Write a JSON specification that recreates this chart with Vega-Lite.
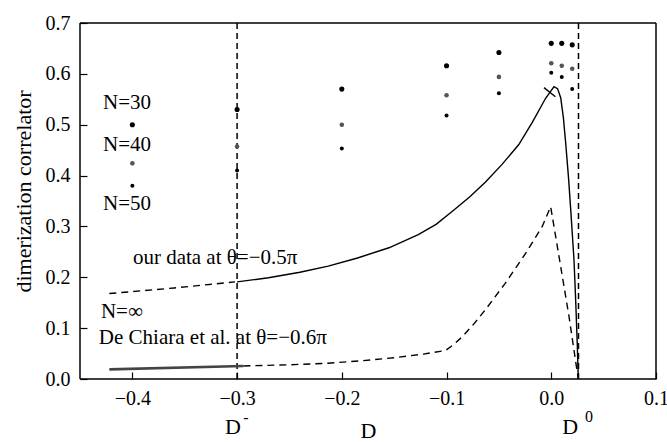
{
  "$schema": "https://vega.github.io/schema/vega-lite/v6.json",
  "width": 576,
  "height": 356,
  "autosize": {"type": "none"},
  "padding": {"left": 80, "top": 23, "right": 11, "bottom": 63},
  "background": "white",
  "config": {
    "view": {"stroke": null},
    "font": "Liberation Serif",
    "axis": {
      "grid": false,
      "domain": false,
      "tickColor": "black",
      "tickWidth": 1.2,
      "labelColor": "black",
      "labelFont": "Liberation Serif",
      "labelFontSize": 20,
      "labelOverlap": false,
      "labelFlush": false,
      "labelBound": false,
      "titleFont": "Liberation Serif",
      "titleFontWeight": "normal",
      "titleFontSize": 22,
      "titleColor": "black"
    }
  },
  "datasets": {
    "vlines": [{"x": -0.3}, {"x": 0.026}],
    "curves": [
      {"series": "ours_solid", "x": -0.3, "y": 0.191},
      {"series": "ours_solid", "x": -0.27, "y": 0.199},
      {"series": "ours_solid", "x": -0.24, "y": 0.21},
      {"series": "ours_solid", "x": -0.213, "y": 0.222},
      {"series": "ours_solid", "x": -0.185, "y": 0.238},
      {"series": "ours_solid", "x": -0.155, "y": 0.258},
      {"series": "ours_solid", "x": -0.127, "y": 0.284},
      {"series": "ours_solid", "x": -0.11, "y": 0.304},
      {"series": "ours_solid", "x": -0.095, "y": 0.329},
      {"series": "ours_solid", "x": -0.078, "y": 0.358},
      {"series": "ours_solid", "x": -0.063, "y": 0.387},
      {"series": "ours_solid", "x": -0.047, "y": 0.422},
      {"series": "ours_solid", "x": -0.031, "y": 0.461},
      {"series": "ours_solid", "x": -0.018, "y": 0.505},
      {"series": "ours_solid", "x": -0.0054, "y": 0.552},
      {"series": "ours_solid", "x": 0.0026, "y": 0.575},
      {"series": "ours_solid", "x": 0.006, "y": 0.571},
      {"series": "ours_solid", "x": 0.009, "y": 0.553},
      {"series": "ours_solid", "x": 0.0115, "y": 0.515},
      {"series": "ours_solid", "x": 0.0138, "y": 0.463},
      {"series": "ours_solid", "x": 0.0165, "y": 0.395},
      {"series": "ours_solid", "x": 0.0186, "y": 0.332},
      {"series": "ours_solid", "x": 0.0217, "y": 0.234},
      {"series": "ours_solid", "x": 0.0233, "y": 0.155},
      {"series": "ours_solid", "x": 0.0248, "y": 0.07},
      {"series": "ours_solid", "x": 0.0258, "y": 0.0},
      {"series": "cross", "x": -0.007, "y": 0.573},
      {"series": "cross", "x": 0.004, "y": 0.555},
      {"series": "dc_solid", "x": -0.422, "y": 0.019},
      {"series": "dc_solid", "x": -0.294, "y": 0.0256},
      {"series": "ours_dashed", "x": -0.422, "y": 0.168},
      {"series": "ours_dashed", "x": -0.36, "y": 0.179},
      {"series": "ours_dashed", "x": -0.302, "y": 0.191},
      {"series": "dc_dashed", "x": -0.294, "y": 0.0256},
      {"series": "dc_dashed", "x": -0.25, "y": 0.028},
      {"series": "dc_dashed", "x": -0.213, "y": 0.031},
      {"series": "dc_dashed", "x": -0.18, "y": 0.036},
      {"series": "dc_dashed", "x": -0.149, "y": 0.042},
      {"series": "dc_dashed", "x": -0.122, "y": 0.049},
      {"series": "dc_dashed", "x": -0.101, "y": 0.056},
      {"series": "dc_dashed", "x": -0.093, "y": 0.068},
      {"series": "dc_dashed", "x": -0.085, "y": 0.083},
      {"series": "dc_dashed", "x": -0.074, "y": 0.108},
      {"series": "dc_dashed", "x": -0.063, "y": 0.136},
      {"series": "dc_dashed", "x": -0.044, "y": 0.188},
      {"series": "dc_dashed", "x": -0.0245, "y": 0.247},
      {"series": "dc_dashed", "x": -0.0086, "y": 0.3},
      {"series": "dc_dashed", "x": -0.0006, "y": 0.339},
      {"series": "dc_dashed", "x": 0.009, "y": 0.221},
      {"series": "dc_dashed", "x": 0.017, "y": 0.122},
      {"series": "dc_dashed", "x": 0.0249, "y": 0.012},
      {"series": "dc_dashed", "x": 0.026, "y": 0.0}
    ],
    "dots": [
      {"x": -0.4, "y": 0.5, "N": "30"}, {"x": -0.4, "y": 0.424, "N": "40"}, {"x": -0.4, "y": 0.38, "N": "50"},
      {"x": -0.3, "y": 0.53, "N": "30"}, {"x": -0.3, "y": 0.457, "N": "40"}, {"x": -0.3, "y": 0.41, "N": "50"},
      {"x": -0.2, "y": 0.57, "N": "30"}, {"x": -0.2, "y": 0.5, "N": "40"}, {"x": -0.2, "y": 0.453, "N": "50"},
      {"x": -0.1, "y": 0.616, "N": "30"}, {"x": -0.1, "y": 0.558, "N": "40"}, {"x": -0.1, "y": 0.518, "N": "50"},
      {"x": -0.05, "y": 0.642, "N": "30"}, {"x": -0.05, "y": 0.594, "N": "40"}, {"x": -0.05, "y": 0.562, "N": "50"},
      {"x": 0.0, "y": 0.66, "N": "30"}, {"x": 0.0, "y": 0.621, "N": "40"}, {"x": 0.0, "y": 0.602, "N": "50"},
      {"x": 0.01, "y": 0.66, "N": "30"}, {"x": 0.01, "y": 0.616, "N": "40"}, {"x": 0.01, "y": 0.594, "N": "50"},
      {"x": 0.02, "y": 0.657, "N": "30"}, {"x": 0.02, "y": 0.61, "N": "40"}, {"x": 0.02, "y": 0.57, "N": "50"}
    ],
    "labels": [
      {"x": -0.428, "y": 0.543, "text": "N=30"},
      {"x": -0.428, "y": 0.46, "text": "N=40"},
      {"x": -0.428, "y": 0.344, "text": "N=50"},
      {"x": -0.3995, "y": 0.238, "text": "our data at θ=−0.5π"},
      {"x": -0.43, "y": 0.132, "text": "N=∞"},
      {"x": -0.432, "y": 0.081, "text": "De Chiara et al. at θ=−0.6π"}
    ],
    "dlabels": [
      {"x": -0.304, "y": -0.094, "text": "D"},
      {"x": 0.018, "y": -0.094, "text": "D"}
    ],
    "sups": [
      {"x": -0.2916, "y": -0.077, "text": "-"},
      {"x": 0.0361, "y": -0.075, "text": "0"}
    ],
    "one": [{}]
  },
  "layer": [
    {
      "data": {"name": "vlines"},
      "mark": {"type": "rule", "color": "black", "strokeWidth": 1.5, "strokeDash": [6, 4]},
      "encoding": {
        "x": {
          "field": "x", "type": "quantitative",
          "scale": {"domain": [-0.45, 0.1], "nice": false, "zero": false},
          "axis": {
            "orient": "bottom",
            "values": [-0.4, -0.3, -0.2, -0.1, 0, 0.1],
            "format": ".1f",
            "labelOverlap": false,
            "offset": -7,
            "ticks": true,
            "tickSize": 7,
            "labelPadding": 9,
            "title": "D",
            "titlePadding": 12
          }
        }
      }
    },
    {
      "data": {"name": "curves"},
      "transform": [{"filter": "datum.series === 'ours_solid' || datum.series === 'cross'"}],
      "mark": {"type": "line", "color": "black", "strokeWidth": 1.4},
      "encoding": {
        "x": {"field": "x", "type": "quantitative"},
        "y": {
          "field": "y", "type": "quantitative",
          "scale": {"domain": [0, 0.7], "nice": false, "zero": false},
          "axis": {
            "orient": "left",
            "values": [0, 0.1, 0.2, 0.3, 0.4, 0.5, 0.6, 0.7],
            "format": ".1f",
            "labelOverlap": false,
            "offset": -7,
            "ticks": true,
            "tickSize": 7,
            "labelPadding": 10,
            "title": "dimerization correlator",
            "titlePadding": 10,
            "titleY": 168
          }
        },
        "detail": {"field": "series"}
      }
    },
    {
      "data": {"name": "curves"},
      "transform": [{"filter": "datum.series === 'ours_dashed' || datum.series === 'dc_dashed'"}],
      "mark": {"type": "line", "color": "black", "strokeWidth": 1.4, "strokeDash": [7, 5]},
      "encoding": {
        "x": {"field": "x", "type": "quantitative"},
        "y": {"field": "y", "type": "quantitative"},
        "detail": {"field": "series"}
      }
    },
    {
      "data": {"name": "curves"},
      "transform": [{"filter": "datum.series === 'dc_solid'"}],
      "mark": {"type": "line", "color": "#444444", "strokeWidth": 2.6},
      "encoding": {
        "x": {"field": "x", "type": "quantitative"},
        "y": {"field": "y", "type": "quantitative"}
      }
    },
    {
      "data": {"name": "dots"},
      "mark": {"type": "circle", "opacity": 1},
      "encoding": {
        "x": {"field": "x", "type": "quantitative"},
        "y": {"field": "y", "type": "quantitative"},
        "color": {"field": "N", "type": "nominal", "scale": {"domain": ["30", "40", "50"], "range": ["#000000", "#555555", "#000000"]}, "legend": null},
        "size": {"field": "N", "type": "nominal", "scale": {"domain": ["30", "40", "50"], "range": [26, 16, 26]}, "legend": null}
      }
    },
    {
      "data": {"name": "labels"},
      "mark": {"type": "text", "align": "left", "baseline": "middle", "font": "Liberation Serif", "fontSize": 21, "color": "black"},
      "encoding": {
        "x": {"field": "x", "type": "quantitative"},
        "y": {"field": "y", "type": "quantitative"},
        "text": {"field": "text"}
      }
    },
    {
      "data": {"name": "dlabels"},
      "mark": {"type": "text", "align": "center", "baseline": "middle", "font": "Liberation Serif", "fontSize": 22, "color": "black"},
      "encoding": {
        "x": {"field": "x", "type": "quantitative"},
        "y": {"field": "y", "type": "quantitative"},
        "text": {"field": "text"}
      }
    },
    {
      "data": {"name": "sups"},
      "mark": {"type": "text", "align": "center", "baseline": "middle", "font": "Liberation Serif", "fontSize": 16, "color": "black"},
      "encoding": {
        "x": {"field": "x", "type": "quantitative"},
        "y": {"field": "y", "type": "quantitative"},
        "text": {"field": "text"}
      }
    },
    {
      "data": {"name": "one"},
      "mark": {"type": "rule", "color": "black", "strokeWidth": 1.5},
      "encoding": {
        "x": {"datum": -0.45, "type": "quantitative"},
        "x2": {"datum": 0.1},
        "y": {"datum": 0, "type": "quantitative"}
      }
    },
    {
      "data": {"name": "one"},
      "mark": {"type": "rule", "color": "black", "strokeWidth": 1.5},
      "encoding": {
        "x": {"datum": -0.45, "type": "quantitative"},
        "x2": {"datum": 0.1},
        "y": {"datum": 0.7, "type": "quantitative"}
      }
    },
    {
      "data": {"name": "one"},
      "mark": {"type": "rule", "color": "black", "strokeWidth": 1.5},
      "encoding": {
        "x": {"datum": -0.45, "type": "quantitative"},
        "y": {"datum": 0, "type": "quantitative"},
        "y2": {"datum": 0.7}
      }
    },
    {
      "data": {"name": "one"},
      "mark": {"type": "rule", "color": "black", "strokeWidth": 1.5},
      "encoding": {
        "x": {"datum": 0.1, "type": "quantitative"},
        "y": {"datum": 0, "type": "quantitative"},
        "y2": {"datum": 0.7}
      }
    }
  ]
}
